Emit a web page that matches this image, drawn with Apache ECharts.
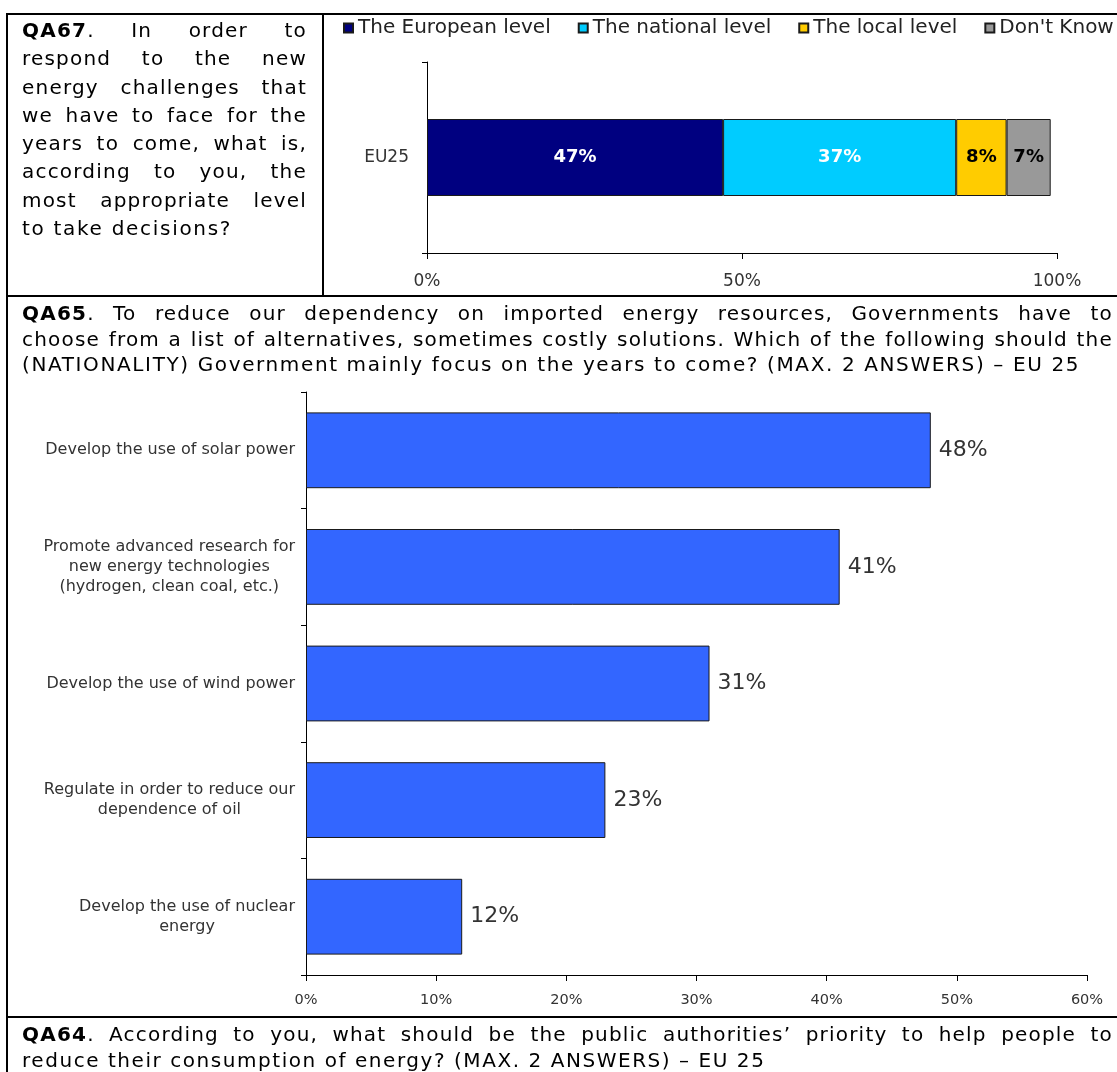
<!DOCTYPE html>
<html>
<head>
<meta charset="utf-8">
<title>Energy survey – EU25</title>
<script src="https://cdn.jsdelivr.net/npm/echarts/dist/echarts.min.js"></script>
<style>
  html, body { margin: 0; padding: 0; background: #fff; }
  #page { position: relative; width: 1117px; height: 1072px; overflow: hidden; }
  #chart { position: absolute; left: 0; top: 0; width: 1117px; height: 1072px; }
  .rule { position: absolute; background: #000; z-index: 2; }
  .q { position: absolute; z-index: 2; font-family: "DejaVu Sans", sans-serif; font-size: 20px;
       letter-spacing: 1.2px; color: #000; }
  .q b { font-weight: bold; }
  .jl { display: flex; justify-content: space-between; white-space: nowrap; }
  .last { white-space: nowrap; letter-spacing: 1.62px; }
</style>
</head>
<body>
<div id="page">
  <div id="chart"></div>

  <!-- table rules -->
  <div class="rule" style="left:6px;top:13px;width:1111px;height:2px"></div>
  <div class="rule" style="left:6px;top:295px;width:1111px;height:2px"></div>
  <div class="rule" style="left:6px;top:1016px;width:1111px;height:2px"></div>
  <div class="rule" style="left:6px;top:13px;width:2px;height:1059px"></div>
  <div class="rule" style="left:322px;top:13px;width:2px;height:283px"></div>

  <!-- question texts -->
  <div class="q" style="left:22px;top:16px;width:285px;line-height:28.3px">
    <div class="jl"><b>QA67</b>. In order to</div>
    <div class="jl">respond to the new</div>
    <div class="jl">energy challenges that</div>
    <div class="jl">we have to face for the</div>
    <div class="jl">years to come, what is,</div>
    <div class="jl">according to you, the</div>
    <div class="jl">most appropriate level</div>
    <div class="last" style="letter-spacing:1.7px">to take decisions?</div>
  </div>

  <div class="q" style="left:22px;top:301px;width:1091px;line-height:25.7px">
    <div class="jl"><b>QA65</b>. To reduce our dependency on imported energy resources, Governments have to</div>
    <div class="jl">choose from a list of alternatives, sometimes costly solutions. Which of the following should the</div>
    <div class="last">(NATIONALITY) Government mainly focus on the years to come? (MAX. 2 ANSWERS) – EU 25</div>
  </div>

  <div class="q" style="left:22px;top:1022px;width:1091px;line-height:25.5px">
    <div class="jl"><b>QA64</b>. According to you, what should be the public authorities’ priority to help people to</div>
    <div class="last" style="letter-spacing:1.55px">reduce their consumption of energy? (MAX. 2 ANSWERS) – EU 25</div>
  </div>
</div>

<script>
// Spread the words of each justified line across the full column width.
document.querySelectorAll('.jl').forEach(function (row) {
  row.innerHTML = row.innerHTML.trim().split(/\s+/).map(function (w) {
    return '<span>' + w + '</span>';
  }).join('');
});

// QA67 – most appropriate level to take decisions (EU25, %)
const levelCategories = ['EU25'];
const levelSeriesNames = ['The European level', 'The national level', 'The local level', "Don't Know"];
const europeanLevel = [47];
const nationalLevel = [37];
const localLevel = [8];
const dontKnow = [7];
const levelTicks = [0, 50, 100];

// QA65 – what governments should mainly focus on (EU25, %)
const focusCategories = [
  'Develop the use of solar power',
  'Promote advanced research for\nnew energy technologies\n(hydrogen, clean coal, etc.)',
  'Develop the use of wind power',
  'Regulate in order to reduce our\ndependence of oil',
  'Develop the use of nuclear\nenergy'
];
const focusShares = [48, 41, 31, 23, 12];
const focusTicks = [0, 10, 20, 30, 40, 50, 60];

const FONT = 'DejaVu Sans';
const levelColors = ['#000080', '#00CCFF', '#FFCC00', '#999999'];
const levelLabelColors = ['#ffffff', '#ffffff', '#000000', '#000000'];
const levelData = [europeanLevel, nationalLevel, localLevel, dontKnow];

const axisLine = { show: true, lineStyle: { color: '#000', width: 1 } };
const axisTick = { show: true, length: 5, lineStyle: { color: '#000', width: 1 } };

const chart = echarts.init(document.getElementById('chart'), null, { renderer: 'canvas' });

chart.setOption({
  animation: false,
  backgroundColor: '#fff',
  legend: {
    data: levelSeriesNames,
    left: 343,
    top: 17,
    padding: 0,
    icon: 'rect',
    itemWidth: 9,
    itemHeight: 9,
    itemGap: 27,
    selectedMode: false,
    textStyle: { fontFamily: FONT, fontSize: 20, color: '#222', lineHeight: 22 }
  },
  grid: [
    { left: 427, top: 62, width: 630, height: 191 },
    { left: 306, top: 392, width: 781, height: 583 }
  ],
  xAxis: [
    {
      gridIndex: 0, type: 'value',
      min: levelTicks[0], max: levelTicks[levelTicks.length - 1],
      interval: levelTicks[1] - levelTicks[0],
      axisLine: axisLine, axisTick: Object.assign({}, axisTick, { length: 6 }),
      splitLine: { show: false },
      axisLabel: { formatter: '{value}%', margin: 20, fontFamily: FONT, fontSize: 17, color: '#333' }
    },
    {
      gridIndex: 1, type: 'value',
      min: focusTicks[0], max: focusTicks[focusTicks.length - 1],
      interval: focusTicks[1] - focusTicks[0],
      axisLine: axisLine, axisTick: Object.assign({}, axisTick, { length: 6 }),
      splitLine: { show: false },
      axisLabel: { formatter: '{value}%', margin: 18, fontFamily: FONT, fontSize: 14.5, color: '#333' }
    }
  ],
  yAxis: [
    {
      gridIndex: 0, type: 'category', data: levelCategories,
      axisLine: axisLine, axisTick: axisTick,
      axisLabel: { margin: 18, fontFamily: FONT, fontSize: 17, color: '#333' }
    },
    {
      gridIndex: 1, type: 'category', data: focusCategories, inverse: true,
      axisLine: axisLine, axisTick: axisTick,
      axisLabel: {
        margin: 11, align: 'right',
        formatter: function (v) {
          return v.split('\n').map(function (l) { return '{c|' + l + '}'; }).join('\n');
        },
        rich: { c: { align: 'center', fontFamily: FONT, fontSize: 16, lineHeight: 20, color: '#333' } }
      }
    }
  ],
  series: levelData.map(function (data, i) {
    return {
      name: levelSeriesNames[i], type: 'bar', stack: 'level',
      xAxisIndex: 0, yAxisIndex: 0, data: data, barWidth: 77,
      itemStyle: { color: levelColors[i], borderColor: '#1a1a1a', borderWidth: 1 },
      label: {
        show: true, position: 'inside', formatter: '{c}%',
        fontFamily: FONT, fontWeight: 'bold', fontSize: 18, color: levelLabelColors[i]
      },
      emphasis: { disabled: true }
    };
  }).concat([{
    name: 'QA65', type: 'bar', xAxisIndex: 1, yAxisIndex: 1, data: focusShares,
    barCategoryGap: '35%',
    itemStyle: { color: '#3366FF', borderColor: '#1a1a1a', borderWidth: 1 },
    label: { show: true, position: 'right', distance: 8, formatter: '{c}%',
             fontFamily: FONT, fontSize: 22, color: '#333' },
    emphasis: { disabled: true }
  }])
});
</script>
</body>
</html>
